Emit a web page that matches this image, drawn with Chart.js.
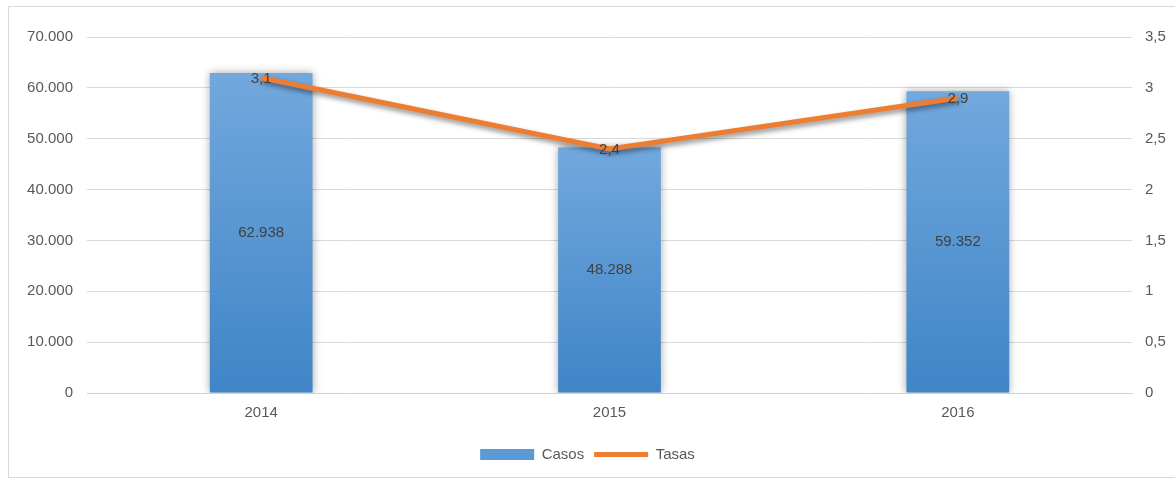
<!DOCTYPE html>
<html>
<head>
<meta charset="utf-8">
<script src="https://cdn.jsdelivr.net/npm/chart.js@4/dist/chart.umd.min.js"></script>
<style>
  body { margin: 0; background: #fff; }
  #wrap { width: 1175px; height: 480px; position: relative; }
</style>
</head>
<body>
<div id="wrap"><canvas id="myChart" width="1175" height="480"></canvas></div>
<script>
const years = ['2014', '2015', '2016']
const casos = [62938, 48288, 59352]
const tasas = [3.1, 2.4, 2.9]
const casosTicks = [0, 10000, 20000, 30000, 40000, 50000, 60000, 70000]
const tasasTicks = [0, 0.5, 1, 1.5, 2, 2.5, 3, 3.5]

const textColor = '#595959'
const fontFamily = '"Liberation Sans", Arial, sans-serif'

// 62938 -> "62.938", 3.1 -> "3,1"
const fmtMiles = v => String(Math.round(v)).replace(/\B(?=(\d{3})+(?!\d))/g, '.')
const fmtComa = v => String(v).replace('.', ',')

const barGradient = ctx => {
  const chart = ctx.chart
  if (!chart.chartArea || !chart.scales.y) return '#5b9bd5'
  const y = chart.scales.y
  const top = y.getPixelForValue(ctx.raw)
  const bottom = y.getPixelForValue(0)
  const g = chart.ctx.createLinearGradient(0, top, 0, bottom)
  g.addColorStop(0, '#72a8dd')
  g.addColorStop(1, '#3f85c7')
  return g
}

// marco gris alrededor del grafico
const framePlugin = {
  id: 'frame',
  beforeDraw(chart) {
    const c = chart.ctx
    c.save()
    c.strokeStyle = '#d9d9d9'
    c.lineWidth = 1
    c.strokeRect(8.5, 6.5, 1200, 471)
    c.restore()
  },
}

// sombras de barras y linea
const shadowPlugin = {
  id: 'shadow',
  beforeDatasetDraw(chart, args) {
    const c = chart.ctx
    c.save()
    if (args.index === 0) {
      c.shadowColor = 'rgba(0,0,0,0.35)'
      c.shadowBlur = 8
      c.shadowOffsetX = 0
      c.shadowOffsetY = 0
    } else {
      c.shadowColor = 'rgba(0,0,0,0.45)'
      c.shadowBlur = 5
      c.shadowOffsetX = 1
      c.shadowOffsetY = 3
    }
  },
  afterDatasetDraw(chart) {
    chart.ctx.restore()
  },
}

// etiquetas de datos
const labelsPlugin = {
  id: 'valueLabels',
  afterDatasetsDraw(chart) {
    const c = chart.ctx
    c.save()
    c.font = '15px ' + fontFamily
    c.fillStyle = '#404040'
    c.textAlign = 'center'
    c.textBaseline = 'middle'
    chart.getDatasetMeta(0).data.forEach((bar, i) => {
      const mid = (bar.y + bar.base) / 2
      c.fillText(fmtMiles(casos[i]), bar.x, mid)
    })
    chart.getDatasetMeta(1).data.forEach((pt, i) => {
      c.fillText(fmtComa(tasas[i]), pt.x, pt.y + 1)
    })
    c.restore()
  },
}

const ctx = document.getElementById('myChart')

const myChart = new Chart(ctx, {
  data: {
    labels: years,
    datasets: [
      {
        type: 'bar',
        label: 'Casos',
        data: casos,
        yAxisID: 'y',
        backgroundColor: barGradient,
        categoryPercentage: 1,
        barPercentage: 0.295,
        order: 2,
      },
      {
        type: 'line',
        label: 'Tasas',
        data: tasas,
        yAxisID: 'y1',
        borderColor: '#ed7d31',
        backgroundColor: '#ed7d31',
        borderWidth: 5,
        pointRadius: 0,
        tension: 0,
        order: 1,
      },
    ],
  },
  options: {
    responsive: false, // tamaño fijo
    maintainAspectRatio: false,
    animation: false,
    layout: { padding: { top: 37, left: 0, right: 0, bottom: 8 } },
    plugins: {
      tooltip: { enabled: false },
      legend: {
        position: 'bottom',
        labels: {
          color: textColor,
          font: { family: fontFamily, size: 15 },
          usePointStyle: true,
          pointStyleWidth: 54,
          boxHeight: 11,
          padding: 10,
          generateLabels(chart) {
            const items = Chart.defaults.plugins.legend.labels.generateLabels(chart)
            items.sort((a, b) => a.datasetIndex - b.datasetIndex)
            items.forEach(it => {
              if (it.datasetIndex === 0) {
                it.pointStyle = 'rect'
                it.fillStyle = '#5a9ad6'
                it.strokeStyle = '#5a9ad6'
                it.lineWidth = 0
              } else {
                it.pointStyle = 'line'
                it.strokeStyle = '#ed7d31'
                it.lineWidth = 5
              }
            })
            return items
          },
        },
      },
    },
    scales: {
      x: {
        grid: { display: false, drawTicks: false },
        border: { display: true, color: '#d0d0d0' },
        ticks: { color: textColor, font: { family: fontFamily, size: 15 }, padding: 11 },
        afterFit(scale) { scale.height = 44 },
      },
      y: {
        position: 'left',
        min: 0,
        max: 70000,
        afterBuildTicks(scale) { scale.ticks = casosTicks.map(v => ({ value: v })) },
        afterFit(scale) { scale.width = 87 },
        grid: { color: '#d9d9d9', drawTicks: false },
        border: { display: false },
        ticks: {
          color: textColor,
          font: { family: fontFamily, size: 15 },
          padding: 14,
          callback: v => fmtMiles(v),
        },
      },
      y1: {
        position: 'right',
        min: 0,
        max: 3.5,
        afterBuildTicks(scale) { scale.ticks = tasasTicks.map(v => ({ value: v })) },
        afterFit(scale) { scale.width = 43 },
        grid: { display: false, drawTicks: false },
        border: { display: false },
        ticks: {
          color: textColor,
          font: { family: fontFamily, size: 15 },
          padding: 13,
          callback: v => fmtComa(v),
        },
      },
    },
  },
  plugins: [framePlugin, shadowPlugin, labelsPlugin],
})
</script>
</body>
</html>
